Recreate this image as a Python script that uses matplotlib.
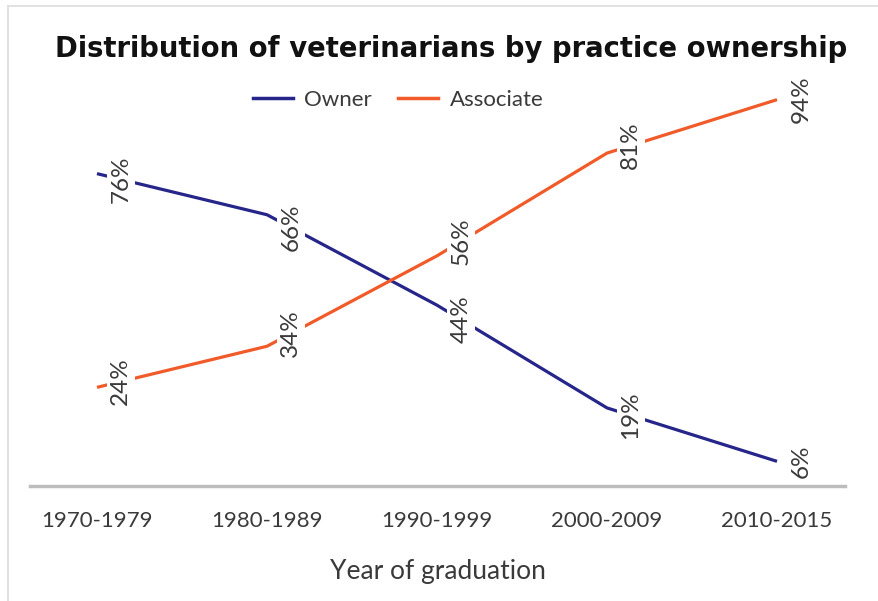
import numpy as np
import matplotlib.pyplot as plt
from matplotlib.lines import Line2D

periods = ['1970-1979', '1980-1989', '1990-1999', '2000-2009', '2010-2015']
owner = [76, 66, 44, 19, 6]
associate = [24, 34, 56, 81, 94]

blue = '#26258a'
orange = '#f15a29'
txt = '#3a3a3a'

plt.rcParams['font.family'] = ['Lato', 'DejaVu Sans']

W, H = 879, 601
fig = plt.figure(figsize=(W / 100, H / 100), dpi=100)

# thin frame of the figure box + clipped "FIGURE 3" heading
fig.add_artist(Line2D([8 / W, 1], [1 - 6 / H, 1 - 6 / H], color='#dcdcdc', lw=1.2))
fig.add_artist(Line2D([8 / W, 8 / W], [0, 1 - 6 / H], color='#dcdcdc', lw=1.2))
fig.text(2 / W, 1 - 3 / H, 'FIGURE 3', va='bottom', ha='left', fontsize=22,
         fontweight='bold', color='#a0a0a0')

ax = fig.add_axes([30 / W, (H - 486) / H, 815 / W, 411 / H])
x = np.arange(len(periods))
ax.plot(x, owner, color=blue, lw=2.3, solid_capstyle='butt', zorder=2)
ax.plot(x, associate, color=orange, lw=2.3, solid_capstyle='butt', zorder=2)

ax.set_xlim(-0.394, 4.4)
ax.set_ylim(0, 100)

# rotated value labels sitting on the line a little right of each point
off = 0.14
for vals in (owner, associate):
    for i, v in enumerate(vals):
        lx = i + off
        ly = np.interp(min(lx, x[-1]), x, vals)
        ax.text(lx, ly, f'{v}%', rotation=90, ha='center', va='center',
                fontsize=17.5, color=txt, zorder=3,
                bbox=dict(boxstyle='square,pad=0.15', fc='white', ec='none'))

for s in ['top', 'right', 'left']:
    ax.spines[s].set_visible(False)
ax.spines['bottom'].set_color('#bdbdbd')
ax.spines['bottom'].set_linewidth(2.5)
ax.set_yticks([])
ax.set_xticks(x)
ax.set_xticklabels(periods, fontsize=16, color=txt)
ax.tick_params(axis='x', length=0, pad=18)
ax.set_xlabel('Year of graduation', fontsize=19, color=txt, labelpad=20)

fig.text(451 / W, 1 - 49 / H, 'Distribution of veterinarians by practice ownership',
         ha='center', va='center', fontsize=19.8, fontweight='bold', color='#111111',
         family='DejaVu Sans')

handles = [Line2D([], [], color=blue, lw=2.5), Line2D([], [], color=orange, lw=2.5)]
fig.legend(handles, ['Owner', 'Associate'], loc='center', bbox_to_anchor=(398 / W, 1 - 100 / H),
           ncol=2, frameon=False, fontsize=16, handlelength=1.8, handletextpad=0.5,
           columnspacing=1.2, labelcolor=txt)

fig.savefig('out.png', dpi=100)
